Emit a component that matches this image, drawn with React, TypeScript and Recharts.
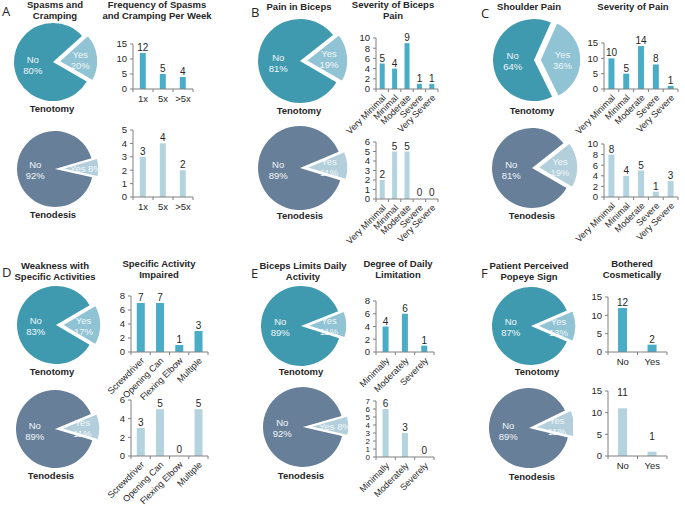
import React from 'react';
import { PieChart, Pie, Cell, BarChart, Bar, XAxis, YAxis, LabelList } from 'recharts';

const FONT = '"Liberation Sans", Arial, sans-serif';
const TENOTOMY_NO = '#3f9ab0';
const TENOTOMY_YES = '#90c3d4';
const TENODESIS_NO = '#677f99';
const TENODESIS_YES = '#b3cfdc';
const BAR_TENOTOMY = '#4aadc7';
const BAR_TENODESIS = '#b3d3de';
const AXIS = '#808080';
const TEXT = '#262626';

// ---------- data ----------
const pieCategories = ['No', 'Yes'];

const spasmsTenotomy = [80, 20];
const spasmsTenodesis = [92, 8];
const freqCats = ['1x', '5x', '>5x'];
const freqTenotomy = [12, 5, 4];
const freqTenodesis = [3, 4, 2];
const freqTicksTop = [0, 5, 10, 15];
const freqTicksBottom = [0, 1, 2, 3, 4, 5];

const bicepsPainTenotomy = [81, 19];
const bicepsPainTenodesis = [89, 11];
const severityCats = ['Very Minimal', 'Minimal', 'Moderate', 'Severe', 'Very Severe'];
const bicepsSevTenotomy = [5, 4, 9, 1, 1];
const bicepsSevTenodesis = [2, 5, 5, 0, 0];
const bicepsTicksTop = [0, 2, 4, 6, 8, 10];
const bicepsTicksBottom = [0, 1, 2, 3, 4, 5, 6];

const shoulderTenotomy = [64, 36];
const shoulderTenodesis = [81, 19];
const shoulderSevTenotomy = [10, 5, 14, 8, 1];
const shoulderSevTenodesis = [8, 4, 5, 1, 3];
const shoulderTicksTop = [0, 5, 10, 15];
const shoulderTicksBottom = [0, 2, 4, 6, 8, 10];

const weaknessTenotomy = [83, 17];
const weaknessTenodesis = [89, 11];
const activityCats = ['Screwdriver', 'Opening Can', 'Flexing Elbow', 'Multiple'];
const activityTenotomy = [7, 7, 1, 3];
const activityTenodesis = [3, 5, 0, 5];
const activityTicksTop = [0, 2, 4, 6, 8];
const activityTicksBottom = [0, 2, 4, 6];

const limitsTenotomy = [89, 11];
const limitsTenodesis = [92, 8];
const limitCats = ['Minimally', 'Moderately', 'Severely'];
const limitTenotomy = [4, 6, 1];
const limitTenodesis = [6, 3, 0];
const limitTicksTop = [0, 2, 4, 6, 8];
const limitTicksBottom = [0, 1, 2, 3, 4, 5, 6, 7];

const popeyeTenotomy = [87, 13];
const popeyeTenodesis = [89, 11];
const cosmeticCats = ['No', 'Yes'];
const cosmeticTenotomy = [12, 2];
const cosmeticTenodesis = [11, 1];
const cosmeticTicks = [0, 5, 10, 15];

// ---------- components ----------
type PieProps = {
  values: number[];
  cx: number;
  cy: number;
  r: number;
  angle: number;
  noColor: string;
  yesColor: string;
  explode?: number;
  oneLine?: boolean;
  clipRight?: number;
};

function MiniPie({ values, cx, cy, r, angle, noColor, yesColor, explode = 6, oneLine = false, clipRight }: PieProps) {
  const data = [
    { name: pieCategories[1], value: values[1] },
    { name: pieCategories[0], value: values[0] },
  ];
  const total = values[0] + values[1];
  const yesSpan = (360 * values[1]) / total;
  const start = angle + yesSpan / 2;
  const end = start - 360;
  const dx = explode * Math.cos((angle * Math.PI) / 180);
  const dy = -explode * Math.sin((angle * Math.PI) / 180);
  const pad = 10;
  const size = 2 * (r + pad);
  const left = cx - r - pad;
  const top = cy - r - pad;
  const width = clipRight !== undefined ? clipRight - left : size + explode;

  const renderLabel = (p: any) => {
    const name = p.name ?? p.payload?.name;
    const isYes = name === pieCategories[1];
    const rad = Math.PI / 180;
    const frac = isYes ? 0.55 : 0.52;
    const ox = isYes ? dx : 0;
    const oy = isYes ? dy : 0;
    const x = p.cx + ox + p.outerRadius * frac * Math.cos(-p.midAngle * rad);
    const y = p.cy + oy + p.outerRadius * frac * Math.sin(-p.midAngle * rad);
    const pct = `${p.value}%`;
    const style = { fontSize: 9.5, fill: '#f2f7f9', fontFamily: FONT } as React.CSSProperties;
    if (isYes && oneLine) {
      return (
        <text x={x + 4} y={y} textAnchor="middle" dominantBaseline="central" style={style}>
          {`${name} ${pct}`}
        </text>
      );
    }
    return (
      <text x={x} y={y} textAnchor="middle" style={style}>
        <tspan x={x} dy={-1.5}>{name}</tspan>
        <tspan x={x} dy={11}>{pct}</tspan>
      </text>
    );
  };

  return (
    <div style={{ position: 'absolute', left, top, width, height: size, overflow: 'hidden' }}>
      <PieChart width={size + explode} height={size} margin={{ top: 0, right: 0, bottom: 0, left: 0 }}>
        <Pie
          data={data}
          dataKey="value"
          nameKey="name"
          cx={r + pad}
          cy={r + pad}
          outerRadius={r}
          startAngle={start}
          endAngle={end}
          stroke="none"
          isAnimationActive={false}
          labelLine={false}
          label={false}
        >
          <Cell fill="none" />
          <Cell fill={noColor} />
        </Pie>
        <Pie
          data={data}
          dataKey="value"
          nameKey="name"
          cx={r + pad + dx}
          cy={r + pad + dy}
          outerRadius={r}
          startAngle={start}
          endAngle={end}
          stroke="none"
          isAnimationActive={false}
          labelLine={false}
          label={false}
        >
          <Cell fill={yesColor} stroke="#ffffff" strokeWidth={1.5} />
          <Cell fill="none" />
        </Pie>
        <Pie
          data={data}
          dataKey="value"
          nameKey="name"
          cx={r + pad}
          cy={r + pad}
          outerRadius={r}
          startAngle={start}
          endAngle={end}
          stroke="none"
          fill="none"
          isAnimationActive={false}
          labelLine={false}
          label={renderLabel}
        >
          <Cell fill="none" />
          <Cell fill="none" />
        </Pie>
      </PieChart>
    </div>
  );
}

type BarProps = {
  cats: string[];
  values: number[];
  color: string;
  x0: number;
  yTop: number;
  yBottom: number;
  xRight: number;
  ticks: number[];
  rotated?: boolean;
  labelOffset?: number;
  yFont?: number;
};

function MiniBar({ cats, values, color, x0, yTop, yBottom, xRight, ticks, rotated = false, labelOffset = 2, yFont = 9.5 }: BarProps) {
  const data = cats.map((c, i) => ({ cat: c, v: values[i] }));
  const yAxisW = 26;
  const mt = 12;
  const ml = rotated ? 50 : 0;
  const xh = rotated ? 60 : 20;
  const mr = 4;
  const width = xRight - x0 + yAxisW + mr + ml;
  const height = yBottom - yTop + mt + xh;
  const band = (xRight - x0) / cats.length;
  const tm = 0;

  const renderTick = (p: any) => {
    const { x, y, payload, index } = p;
    const axisY = y - tm;
    const tl = x - band / 2;
    const tr = x + band / 2;
    return (
      <g>
        <line x1={tl} x2={tl} y1={axisY} y2={axisY + 3} stroke={AXIS} strokeWidth={1} />
        {index === cats.length - 1 && (
          <line x1={tr} x2={tr} y1={axisY} y2={axisY + 3} stroke={AXIS} strokeWidth={1} />
        )}
        {rotated ? (
          <text
            transform={`translate(${x + 2},${axisY + 7}) rotate(-45)`}
            textAnchor="end"
            dy="0.35em"
            style={{ fontSize: 9, fill: TEXT, fontFamily: FONT }}
          >
            {payload.value}
          </text>
        ) : (
          <text x={x} y={axisY + 6} dy="0.75em" textAnchor="middle" style={{ fontSize: 9.5, fill: TEXT, fontFamily: FONT }}>
            {payload.value}
          </text>
        )}
      </g>
    );
  };

  return (
    <div style={{ position: 'absolute', left: x0 - yAxisW - ml, top: yTop - mt, width, height }}>
      <BarChart
        width={width}
        height={height}
        data={data}
        margin={{ top: mt, right: mr, left: ml, bottom: 0 }}
        barCategoryGap={cats.length > 3 ? '30%' : '34%'}
      >
        <XAxis
          dataKey="cat"
          height={xh}
          interval={0}
          axisLine={{ stroke: AXIS }}
          tickLine={false}
          tickSize={0}
          tickMargin={tm}
          tick={renderTick}
        />
        <YAxis
          width={yAxisW}
          type="number"
          domain={[0, ticks[ticks.length - 1]]}
          ticks={ticks}
          interval={0}
          allowDataOverflow
          axisLine={{ stroke: AXIS }}
          tickLine={{ stroke: AXIS }}
          tickSize={3}
          tickMargin={3}
          tick={{ fontSize: yFont, fill: TEXT, fontFamily: FONT }}
        />
        <Bar dataKey="v" fill={color} minPointSize={1} isAnimationActive={false}>
          {values.map((v, i) => (
            <Cell key={i} fill={v === 0 ? 'transparent' : color} />
          ))}
          <LabelList dataKey="v" position="top" offset={labelOffset} style={{ fontSize: 10, fill: TEXT, fontFamily: FONT }} />
        </Bar>
      </BarChart>
    </div>
  );
}

function Title({ x, y, lines, bold = true, size = 9.5 }: { x: number; y: number; lines: string[]; bold?: boolean; size?: number }) {
  return (
    <div
      style={{
        position: 'absolute',
        left: x - 100,
        top: y,
        width: 200,
        textAlign: 'center',
        fontFamily: FONT,
        fontWeight: bold ? 700 : 400,
        fontSize: size,
        lineHeight: '10.6px',
        color: TEXT,
        whiteSpace: 'nowrap',
      }}
    >
      {lines.map((l, i) => (
        <div key={i}>{l}</div>
      ))}
    </div>
  );
}

function Letter({ x, y, ch }: { x: number; y: number; ch: string }) {
  return (
    <div style={{ position: 'absolute', left: x, top: y, fontFamily: '"Open Sans", "Liberation Sans", sans-serif', fontSize: 13, color: TEXT, lineHeight: '14px' }}>
      {ch}
    </div>
  );
}

export default function App() {
  return (
    <div style={{ position: 'absolute', left: 0, top: 0, width: 685, height: 506, background: '#ffffff', overflow: 'hidden' }}>
      {/* Panel A */}
      <Letter x={2} y={4} ch="A" />
      <Title x={55} y={0} lines={['Spasms and', 'Cramping']} />
      <Title x={157} y={0} lines={['Frequency of Spasms', 'and Cramping Per Week']} />
      <MiniPie values={spasmsTenotomy} cx={53} cy={62} r={39} angle={6} noColor={TENOTOMY_NO} yesColor={TENOTOMY_YES} />
      <Title x={52} y={104} lines={['Tenotomy']} />
      <MiniPie values={spasmsTenodesis} cx={55} cy={169} r={38} angle={2} noColor={TENODESIS_NO} yesColor={TENODESIS_YES} oneLine />
      <Title x={53} y={210} lines={['Tenodesis']} />
      <MiniBar cats={freqCats} values={freqTenotomy} color={BAR_TENOTOMY} x0={133} yTop={44} yBottom={89} xRight={193} ticks={freqTicksTop} />
      <MiniBar cats={freqCats} values={freqTenodesis} color={BAR_TENODESIS} x0={133} yTop={130} yBottom={197} xRight={193} ticks={freqTicksBottom} />

      {/* Panel B */}
      <Letter x={251} y={5} ch="B" />
      <Title x={299} y={2} lines={['Pain in Biceps']} />
      <Title x={393} y={0} lines={['Severity of Biceps', 'Pain']} />
      <MiniPie values={bicepsPainTenotomy} cx={300} cy={61} r={42} angle={4} noColor={TENOTOMY_NO} yesColor={TENOTOMY_YES} />
      <Title x={299} y={106} lines={['Tenotomy']} />
      <MiniPie values={bicepsPainTenodesis} cx={300} cy={168} r={42} angle={3} noColor={TENODESIS_NO} yesColor={TENODESIS_YES} />
      <Title x={300} y={211} lines={['Tenodesis']} />
      <MiniBar cats={severityCats} values={bicepsSevTenotomy} color={BAR_TENOTOMY} x0={376} yTop={38} yBottom={89} xRight={438} ticks={bicepsTicksTop} rotated />
      <MiniBar cats={severityCats} values={bicepsSevTenodesis} color={BAR_TENODESIS} x0={376} yTop={142} yBottom={199} xRight={438} ticks={bicepsTicksBottom} rotated />

      {/* Panel C */}
      <Letter x={481} y={6} ch="C" />
      <Title x={529} y={2} lines={['Shoulder Pain']} />
      <Title x={633} y={2} lines={['Severity of Pain']} />
      <MiniPie values={shoulderTenotomy} cx={534} cy={60} r={41} angle={1} noColor={TENOTOMY_NO} yesColor={TENOTOMY_YES} />
      <Title x={532} y={106} lines={['Tenotomy']} />
      <MiniPie values={shoulderTenodesis} cx={532} cy={168} r={40} angle={4} noColor={TENODESIS_NO} yesColor={TENODESIS_YES} />
      <Title x={532} y={211} lines={['Tenodesis']} />
      <MiniBar cats={severityCats} values={shoulderSevTenotomy} color={BAR_TENOTOMY} x0={604} yTop={43} yBottom={89} xRight={678} ticks={shoulderTicksTop} rotated />
      <MiniBar cats={severityCats} values={shoulderSevTenodesis} color={BAR_TENODESIS} x0={604} yTop={144} yBottom={197} xRight={678} ticks={shoulderTicksBottom} rotated />

      {/* Panel D */}
      <Letter x={2} y={265} ch="D" />
      <Title x={55} y={261} lines={['Weakness with', 'Specific Activities']} />
      <Title x={159} y={259} lines={['Specific Activity', 'Impaired']} />
      <MiniPie values={weaknessTenotomy} cx={56} cy={325} r={39} angle={0} noColor={TENOTOMY_NO} yesColor={TENOTOMY_YES} />
      <Title x={52} y={367} lines={['Tenotomy']} />
      <MiniPie values={weaknessTenodesis} cx={55} cy={429} r={39} angle={3} noColor={TENODESIS_NO} yesColor={TENODESIS_YES} />
      <Title x={51} y={471} lines={['Tenodesis']} />
      <MiniBar cats={activityCats} values={activityTenotomy} color={BAR_TENOTOMY} x0={131} yTop={296} yBottom={352} xRight={208} ticks={activityTicksTop} rotated />
      <MiniBar cats={activityCats} values={activityTenodesis} color={BAR_TENODESIS} x0={131} yTop={400} yBottom={456} xRight={208} ticks={activityTicksBottom} rotated />

      {/* Panel E */}
      <Letter x={251} y={266} ch="E" />
      <Title x={303} y={261} lines={['Biceps Limits Daily', 'Activity']} />
      <Title x={398} y={259} lines={['Degree of Daily', 'Limitation']} />
      <MiniPie values={limitsTenotomy} cx={301} cy={326} r={40} angle={2} noColor={TENOTOMY_NO} yesColor={TENOTOMY_YES} />
      <Title x={301} y={367} lines={['Tenotomy']} />
      <MiniPie values={limitsTenodesis} cx={303} cy={427} r={40} angle={1.5} noColor={TENODESIS_NO} yesColor={TENODESIS_YES} oneLine />
      <Title x={301} y={471} lines={['Tenodesis']} />
      <MiniBar cats={limitCats} values={limitTenotomy} color={BAR_TENOTOMY} x0={376} yTop={301} yBottom={352} xRight={434} ticks={limitTicksTop} rotated />
      <MiniBar cats={limitCats} values={limitTenodesis} color={BAR_TENODESIS} x0={376} yTop={401} yBottom={457} xRight={434} ticks={limitTicksBottom} rotated yFont={8} />

      {/* Panel F */}
      <Letter x={481} y={266} ch="F" />
      <Title x={529} y={261} lines={['Patient Perceived', 'Popeye Sign']} />
      <Title x={632} y={259} lines={['Bothered', 'Cosmetically']} />
      <MiniPie values={popeyeTenotomy} cx={531} cy={326} r={39} angle={0} noColor={TENOTOMY_NO} yesColor={TENOTOMY_YES} />
      <Title x={537} y={367} lines={['Tenotomy']} />
      <MiniPie values={popeyeTenodesis} cx={529} cy={428} r={40} angle={6} noColor={TENODESIS_NO} yesColor={TENODESIS_YES} clipRight={573} />
      <Title x={532} y={472} lines={['Tenodesis']} />
      <MiniBar cats={cosmeticCats} values={cosmeticTenotomy} color={BAR_TENOTOMY} x0={608} yTop={297} yBottom={352} xRight={667} ticks={cosmeticTicks} />
      <MiniBar cats={cosmeticCats} values={cosmeticTenodesis} color={BAR_TENODESIS} x0={608} yTop={391} yBottom={456} xRight={667} ticks={cosmeticTicks} labelOffset={12} />
    </div>
  );
}
